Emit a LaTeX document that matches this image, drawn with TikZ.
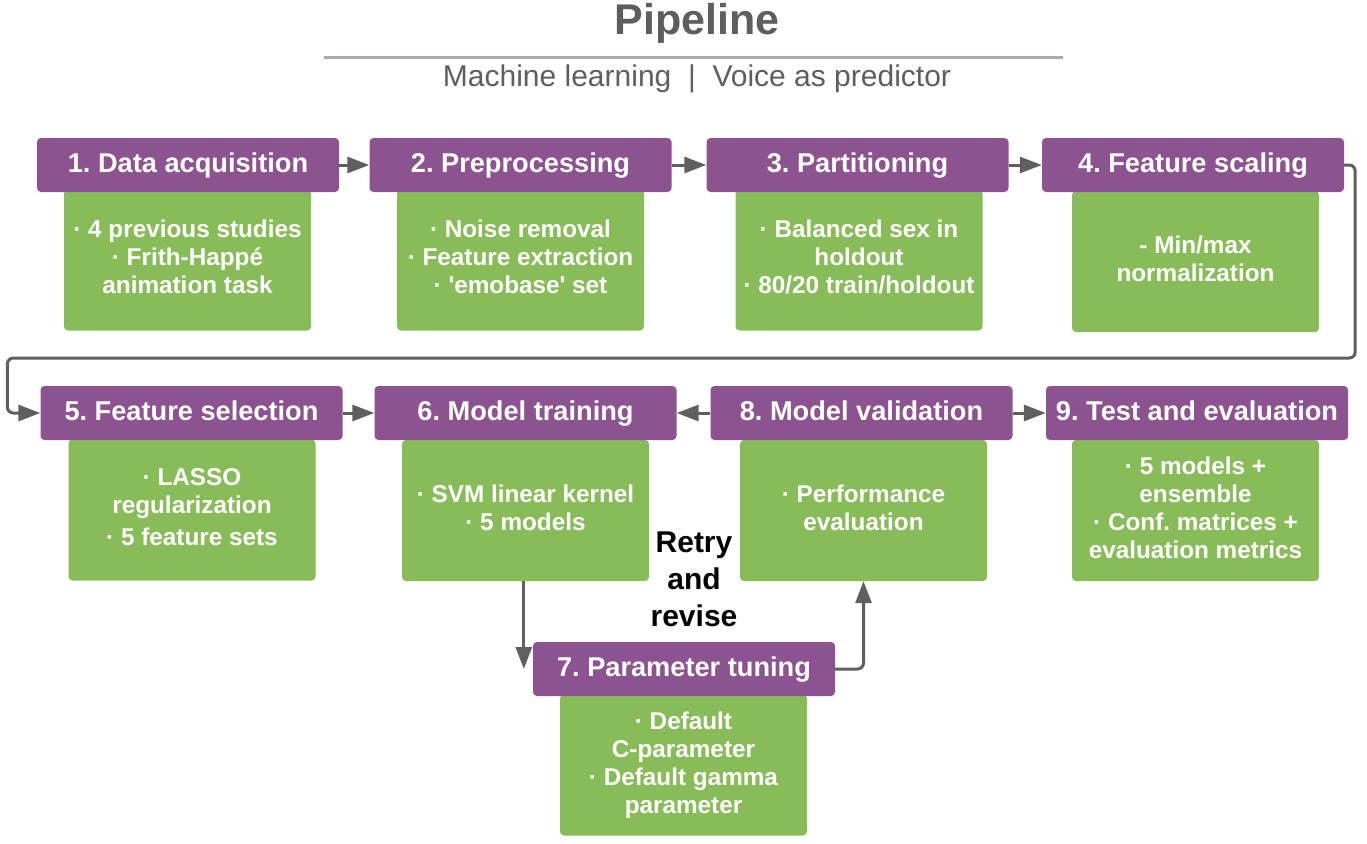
\documentclass[tikz,border=0pt]{standalone}
\usepackage{fontspec}
\setmainfont{Liberation Sans}
\usetikzlibrary{arrows.meta,positioning}
\definecolor{headpurple}{HTML}{8C5390}
\definecolor{boxgreen}{HTML}{88BC58}
\definecolor{arrowgray}{HTML}{5F5F5F}
\definecolor{titlegray}{HTML}{5E5E5E}
\definecolor{rulegray}{HTML}{A7ABB3}
\frenchspacing

\begin{document}
\begin{tikzpicture}[x=1pt, y=-1pt, >={Triangle[length=22pt,width=16pt]},
  head/.style={fill=headpurple, rounded corners=4pt, minimum width=302pt, minimum height=54pt,
    inner sep=0pt, text height=22pt, text depth=8pt, text=white, font=\fontsize{27.2}{30}\selectfont\bfseries},
  info/.style={fill=boxgreen, rounded corners=4pt, minimum width=247pt, minimum height=141pt,
    inner sep=0pt, text depth=6pt, text=white, align=center, font=\fontsize{24.3}{28}\selectfont\bfseries},
  link/.style={->, draw=arrowgray, line width=3pt}]
  \useasboundingbox (0,0) rectangle (1367,843);

  % Title
  \node[text=titlegray, font=\fontsize{43}{50}\selectfont\bfseries] (title) at (697,23) {Pipeline};
  \coordinate (ruleL) at (324,58);
  \coordinate (ruleR) at (1063,58);
  \draw[rulegray, line width=3pt] (ruleL) -- (ruleR);
  \node[text=titlegray, font=\fontsize{30}{34}\selectfont] (subtitle) at (697,79)
    {Machine learning \ \textbar\ \ Voice as predictor};

  % Define the content boxes
  \node[info] (g1) at (187.5,260) {· 4 previous studies\\· Frith-Happé\\animation task};
  \node[info] (g2) at (520.5,260) {· Noise removal\\· Feature extraction\\· \textquotesingle emobase\textquotesingle\ set};
  \node[info] (g3) at (859,260) {· Balanced sex in\\holdout\\· 80/20 train/holdout};
  \node[info] (g4) at (1195.5,261.5) {- Min/max\\normalization};
  \node[info] (g5) at (192,510) {· LASSO\\regularization\\[4pt]· 5 feature sets};
  \node[info] (g6) at (525.5,510.5) {· SVM linear kernel\\· 5 models};
  \node[info] (g8) at (863.5,510.5) {· Performance\\evaluation};
  \node[info] (g9) at (1195.5,510.5) {· 5 models +\\ensemble\\· Conf. matrices +\\evaluation metrics};
  \node[info, text depth=4pt] (g7) at (683.5,765) {· Default\\C-parameter\\· Default gamma\\parameter};

  % Define the steps
  \node[head] (h1) at (188,165) {1. Data acquisition};
  \node[head] (h2) at (520.5,165) {2. Preprocessing};
  \node[head] (h3) at (857.5,165) {3. Partitioning};
  \node[head] (h4) at (1193,165) {4. Feature scaling};
  \node[head] (h5) at (191.5,413) {5. Feature selection};
  \node[head] (h6) at (525.5,413) {6. Model training};
  \node[head] (h8) at (861.5,413) {8. Model validation};
  \node[head] (h9) at (1197,413) {9. Test and evaluation};
  \node[head] (h7) at (684,669) {7. Parameter tuning};

  \node[font=\fontsize{30}{37}\selectfont\bfseries, align=center] (retry) at (694,579) {Retry\\and\\revise};

  % Draw the connectors
  \draw[link] (h1) -- (h2);
  \draw[link] (h2) -- (h3);
  \draw[link] (h3) -- (h4);
  \draw[link, rounded corners=6pt] (h4.east) -- ++(11,0) -- ++(0,193) -| ([xshift=-33pt]h5.west) -- (h5.west);
  \draw[link] (h5) -- (h6);
  \draw[link] (h8) -- (h6);
  \draw[link] (h8) -- (h9);
  \coordinate (r7) at ([xshift=-9pt]h7.west);
  \draw[link] (g6.south -| r7) -- (r7);
  \draw[link, rounded corners=6pt] (h7.east) -| (g8.south);
\end{tikzpicture}
\end{document}
